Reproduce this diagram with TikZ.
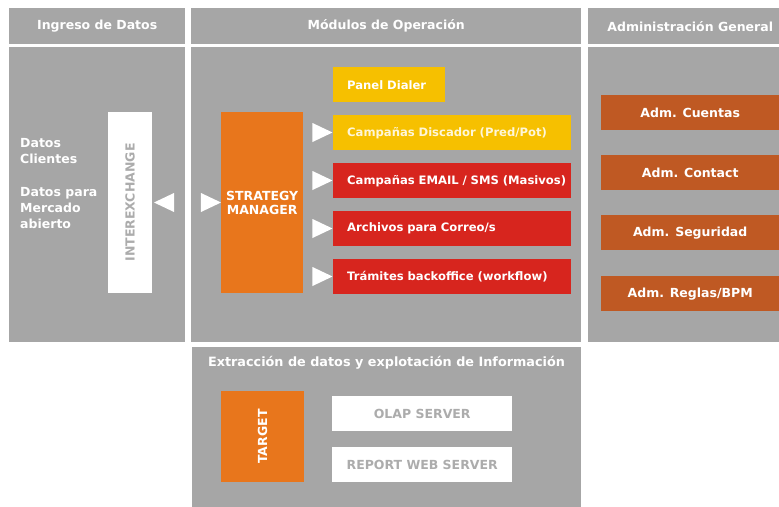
\documentclass[tikz,border=0pt]{standalone}
\usepackage{fontspec}
\setmainfont{DejaVu Sans}
\usetikzlibrary{positioning, shapes.geometric}

\definecolor{grisPanel}{RGB}{166,166,166}
\definecolor{grisTexto}{RGB}{172,172,172}
\definecolor{naranja}{RGB}{232,118,28}
\definecolor{amarillo}{RGB}{246,192,0}
\definecolor{rojo}{RGB}{215,37,30}
\definecolor{marron}{RGB}{191,89,35}

\begin{document}
\begin{tikzpicture}[x=1pt,y=-1pt]
	\tikzstyle{caja}=[anchor=north west,inner sep=0pt,draw=none]
	\tikzstyle{panel}=[caja,fill=grisPanel]
	\tikzstyle{titulo}=[panel,text=white,minimum height=36pt,font=\bfseries\fontsize{12.5}{15}\selectfont]
	\tikzstyle{modulo}=[caja,text=white,minimum height=35pt,align=left,
		execute at begin node={\hspace*{14pt}},font=\bfseries\fontsize{11.6}{14}\selectfont]
	\tikzstyle{adm}=[caja,fill=marron,text=white,minimum width=178pt,minimum height=35pt,font=\bfseries\fontsize{12.5}{15}\selectfont]
	\tikzstyle{servidor}=[caja,fill=white,text=grisTexto,minimum width=180pt,minimum height=35pt,font=\bfseries\fontsize{12.5}{15}\selectfont]
	\tikzstyle{flecha}=[isosceles triangle,isosceles triangle stretches,fill=white,draw=none,inner sep=0pt,minimum width=19pt,minimum height=20pt]
	\useasboundingbox (0,0) rectangle (779,506);
	\clip (0,0) rectangle (779,506);

	% cabeceras
	\node[titulo,minimum width=176pt] (hIngreso) at (9,8) {Ingreso de Datos};
	\node[titulo,minimum width=390pt] (hModulos) at (191,8) {Módulos de Operación};
	\node[titulo,minimum width=204pt] (hAdmin) at (588,8) {Administración General};

	% paneles
	\node[panel,minimum width=176pt,minimum height=295pt] (pIngreso) at (9,47) {};
	\node[panel,minimum width=390pt,minimum height=295pt] (pModulos) at (191,47) {};
	\node[panel,minimum width=204pt,minimum height=295pt] (pAdmin) at (588,47) {};
	\node[panel,minimum width=389pt,minimum height=165pt] (pExtraccion) at (192,347) {};

	% ingreso de datos
	\node[caja,align=left,text=white,font=\bfseries\fontsize{12.5}{15.8}\selectfont] (datos) at (20,138.5)
		{Datos\\Clientes\\[17.5pt]Datos para\\Mercado\\abierto};
	\node[fill=white,text=grisTexto,inner sep=0pt,rotate=90,minimum width=181pt,minimum height=44pt,
		font=\bfseries\fontsize{12.5}{15}\selectfont] (interexchange) at (130,202.5) {INTEREXCHANGE};
	\node[flecha,shape border rotate=180] (fIzq) at (168,202.5) {};
	\node[flecha] (fDer) at (207,202.5) {};

	% modulos de operacion
	\node[caja,fill=naranja,text=white,align=center,minimum width=82pt,minimum height=181pt,
		font=\bfseries\fontsize{12.5}{14}\selectfont] (strategy) at (221,112) {STRATEGY\\MANAGER};
	\node[modulo,fill=amarillo,text width=112pt] (dialer) at (333,67) {Panel Dialer};
	\node[modulo,fill=amarillo,text width=238pt,text=white!85!amarillo] (discador) at (333,115) {Campañas Discador (Pred/Pot)};
	\node[modulo,fill=rojo,text width=238pt] (email) at (333,163) {Campañas EMAIL / SMS (Masivos)};
	\node[modulo,fill=rojo,text width=238pt] (archivos) at (333,211) {Archivos para Correo/s};
	\node[modulo,fill=rojo,text width=238pt] (tramites) at (333,259) {Trámites backoffice (workflow)};
	\node[flecha] (f1) at (318.5,132.5) {};
	\node[flecha] (f2) at (318.5,180.5) {};
	\node[flecha] (f3) at (318.5,228.5) {};
	\node[flecha] (f4) at (318.5,276.5) {};

	% administracion general
	\node[adm] (cuentas) at (601,95) {Adm. Cuentas};
	\node[adm] (contact) at (601,155) {Adm. Contact};
	\node[adm] (seguridad) at (601,215) {Adm. Seguridad};
	\node[adm] (reglas) at (601,276) {Adm. Reglas/BPM};

	% extraccion de datos
	\node[text=white,inner sep=0pt,font=\bfseries\fontsize{12.8}{15}\selectfont] (tExtraccion) at (386.5,363)
		{Extracción de datos y explotación de Información};
	\node[fill=naranja,text=white,inner sep=0pt,rotate=90,minimum width=91pt,minimum height=83pt,
		font=\bfseries\fontsize{12.5}{15}\selectfont] (target) at (262.5,436.5) {TARGET};
	\node[servidor] (olap) at (332,396) {OLAP SERVER};
	\node[servidor] (report) at (332,447) {REPORT WEB SERVER};
\end{tikzpicture}
\end{document}
